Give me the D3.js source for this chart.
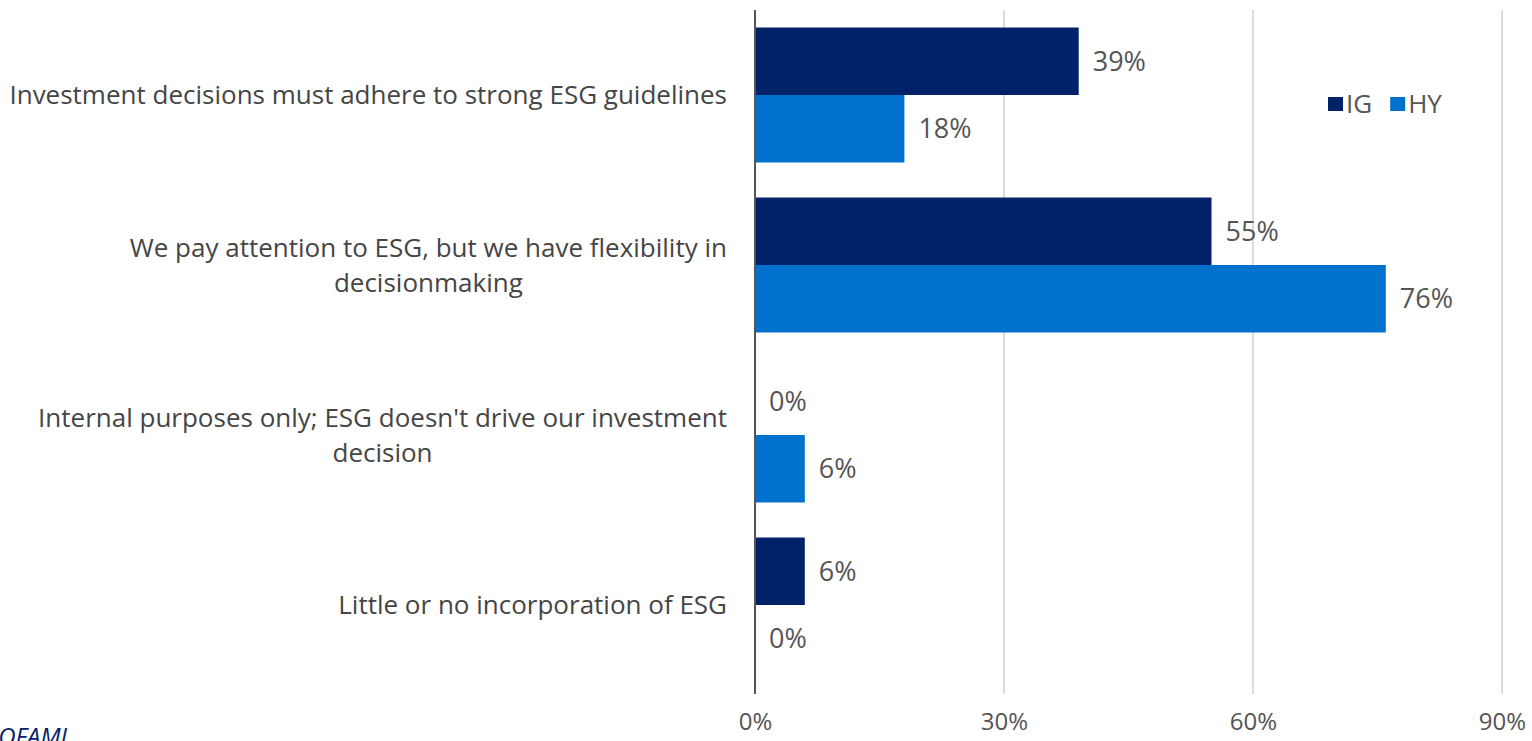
<!DOCTYPE html>
<html>
<head>
<meta charset="utf-8">
<script src="https://cdn.jsdelivr.net/npm/d3@7"></script>
<style>
  html, body { margin: 0; padding: 0; background: #fff; }
  svg { display: block; }
  text { font-family: "Open Sans", "Noto Sans", sans-serif; }
</style>
</head>
<body>
<svg id="chart" width="1532" height="741"></svg>
<script>
// Survey responses: how ESG factors into investment decisions
const categories = [
  ["Investment decisions must adhere to strong ESG guidelines"],
  ["We pay attention to ESG, but we have flexibility in", "decisionmaking"],
  ["Internal purposes only; ESG doesn't drive our investment", "decision"],
  ["Little or no incorporation of ESG"]
];
const seriesNames = ["IG", "HY"];
const igValues = [0.39, 0.55, 0.00, 0.06];
const hyValues = [0.18, 0.76, 0.06, 0.00];
const xTicks = [0, 0.3, 0.6, 0.9];
const sourceText = "BOFAML";

const colors = { IG: "#012169", HY: "#0071cc" };

const W = 1532, H = 741;
const plot = { left: 755, right: 1502, top: 10, bottom: 690 };

const svg = d3.select("#chart");

const catKeys = categories.map((c, i) => i);
const x = d3.scaleLinear().domain([0, 0.9]).range([plot.left, plot.right]);
const y = d3.scaleBand().domain(catKeys).range([plot.top, plot.bottom])
  .paddingInner(0.206).paddingOuter(0.103);
const ySub = d3.scaleBand().domain(seriesNames).range([0, y.bandwidth()]);

const rows = catKeys.map(i => ({
  i,
  vals: [{ s: "IG", v: igValues[i] }, { s: "HY", v: hyValues[i] }]
}));

// vertical gridlines
svg.append("g").selectAll("line").data(xTicks.filter(t => t > 0)).join("line")
  .attr("x1", d => x(d)).attr("x2", d => x(d))
  .attr("y1", plot.top).attr("y2", plot.bottom + 4)
  .attr("stroke", "#d4d4d4").attr("stroke-width", 1.6);

// x-axis tick labels
const xAxis = d3.axisBottom(x).tickValues(xTicks).tickFormat(d3.format(".0%")).tickSize(0).tickPadding(0);
const gx = svg.append("g").attr("transform", `translate(0,${plot.bottom + 32})`).call(xAxis);
gx.select(".domain").remove();
gx.selectAll("text").attr("font-size", 24).attr("fill", "#555")
  .attr("font-family", "'Open Sans', sans-serif").attr("dy", "0.35em");

// bars
const groups = svg.append("g").selectAll("g").data(rows).join("g")
  .attr("transform", d => `translate(0,${y(d.i)})`);

groups.selectAll("rect").data(d => d.vals).join("rect")
  .attr("x", x(0))
  .attr("y", d => ySub(d.s))
  .attr("width", d => x(d.v) - x(0))
  .attr("height", ySub.bandwidth())
  .attr("fill", d => colors[d.s]);

// value labels
groups.selectAll("text").data(d => d.vals).join("text")
  .attr("x", d => x(d.v) + 14)
  .attr("y", d => ySub(d.s) + ySub.bandwidth() / 2)
  .attr("dy", "0.35em")
  .attr("font-size", 27)
  .attr("fill", "#555")
  .text(d => d3.format(".0%")(d.v));

// zero axis line
svg.append("line")
  .attr("x1", x(0)).attr("x2", x(0))
  .attr("y1", plot.top).attr("y2", plot.bottom + 4)
  .attr("stroke", "#555").attr("stroke-width", 2);

// category labels: lines centred on each other, block right-aligned
const labelRight = 727, lineH = 35;
const labels = svg.append("g");
rows.forEach(r => {
  const lines = categories[r.i];
  const cy = y(r.i) + y.bandwidth() / 2;
  const t = labels.append("text").attr("font-size", 26).attr("fill", "#454545")
    .attr("text-anchor", "middle");
  const spans = lines.map((ln, k) => t.append("tspan")
    .attr("y", cy + (k - (lines.length - 1) / 2) * lineH)
    .attr("dy", "0.35em").text(ln));
  const maxW = d3.max(spans, s => s.node().getComputedTextLength());
  spans.forEach(s => s.attr("x", labelRight - maxW / 2));
});

// legend
const legend = svg.append("g").attr("transform", "translate(1328,94)");
let lx = 0;
seriesNames.forEach(name => {
  legend.append("rect").attr("x", lx).attr("y", 3).attr("width", 15).attr("height", 14)
    .attr("fill", colors[name]);
  const t = legend.append("text").attr("x", lx + 18).attr("y", 10).attr("dy", "0.35em")
    .attr("font-size", 26).attr("fill", "#555").text(name);
  lx += 18 + t.node().getComputedTextLength() + 18;
});

// source note
svg.append("text").attr("x", 72).attr("y", 745).attr("text-anchor", "end")
  .attr("font-size", 24).attr("font-style", "italic").attr("fill", "#012169")
  .text(sourceText);
</script>
</body>
</html>
